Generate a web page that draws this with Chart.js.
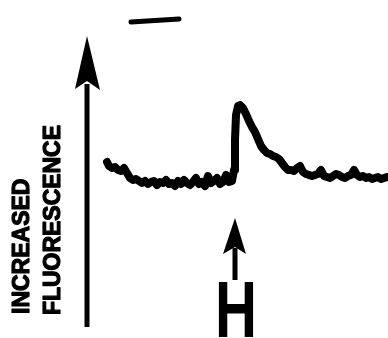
<!DOCTYPE html>
<html>
<head>
<meta charset="utf-8">
<script src="https://cdn.jsdelivr.net/npm/chart.js@4.4.1/dist/chart.umd.min.js"></script>
<style>
  html, body { margin: 0; padding: 0; background: #fff; }
  #wrap { width: 388px; height: 338px; }
</style>
</head>
<body>
<div id="wrap"><canvas id="trace" width="388" height="338"></canvas></div>
<script>
// Tempo (s) e fluorescência (u.a.)
const tempo = [
  0, 2, 5, 8, 11, 14, 17, 20, 23, 26, 29, 32, 35, 38, 41, 44, 47, 50, 53, 56,
  59, 62, 65, 68, 71, 74, 77, 80, 83, 86, 89, 92, 95, 98, 101, 104, 107, 110, 113, 116,
  119, 122, 125, 127, 128, 129, 131, 133, 136, 139, 142, 145, 148, 151, 154, 157, 160, 163, 166, 169,
  172, 175, 178, 181, 184, 187, 190, 193, 196, 199, 202, 205, 208, 211, 214, 217, 220, 223, 226, 229,
  232, 235, 238, 241, 244, 247, 250, 253, 256, 259, 262, 265, 268, 271, 274, 277, 280
];
const fluorescencia = [
  20, 16, 14, 15, 12, 11, 14, 9, 4, 2, 3, 1, -1, 1, -2, 0, 1, -3, 0, -1,
  2, -2, -1, -4, 1, -2, 2, -1, -3, 0, 4, -2, 0, -4, 6, -1, 1, 4, -2, 0,
  7, 0, 1, 12, 42, 67, 76, 77, 74, 68, 61, 55, 50, 43, 36, 32, 29, 28, 26, 25,
  23, 19, 15, 12, 12, 11, 14, 16, 10, 8, 7, 6, 7, 8, 12, 6, 5, 4, 6, 8,
  7, 5, 4, 6, 7, 12, 7, 5, 6, 4, 5, 3, 4, 5, 3, 4, 5
];
const rotulos = ["INCREASED", "FLUORESCENCE"];
const estimulo = "H";
const tempoEstimulo = 128;
const barraEscala = [24, 72]; // início e fim da barra de tempo (s)

const pontos = tempo.map((t, i) => ({ x: t, y: fluorescencia[i] }));

// Desenha setas, textos, barra de escala e o "H"
const anotacoes = {
  id: 'anotacoes',
  afterDatasetsDraw(chart) {
    const ctx = chart.ctx;
    const sx = chart.scales.x;
    ctx.save();
    ctx.fillStyle = '#000';
    ctx.strokeStyle = '#000';

    // seta grande vertical
    ctx.lineWidth = 5;
    ctx.beginPath();
    ctx.moveTo(87, 327);
    ctx.lineTo(87, 84);
    ctx.stroke();
    ctx.beginPath();
    ctx.moveTo(87, 36);
    ctx.lineTo(100, 90);
    ctx.lineTo(87, 81);
    ctx.lineTo(75, 89);
    ctx.closePath();
    ctx.fill();

    // rótulos rotacionados (com leve contorno para parecer tinta impressa)
    ctx.font = 'bold 23px "Liberation Sans", Arial, sans-serif';
    ctx.textBaseline = 'alphabetic';
    ctx.textAlign = 'left';
    ctx.lineWidth = 1.2;
    ctx.lineJoin = 'round';
    [[29, 314, 136], [60, 315, 190]].forEach(([x, y, w], i) => {
      ctx.save();
      ctx.translate(x, y);
      ctx.rotate(-Math.PI / 2);
      ctx.fillText(rotulos[i], 0, 0, w);
      ctx.strokeText(rotulos[i], 0, 0, w);
      ctx.restore();
    });

    // barra de escala
    ctx.lineWidth = 5;
    ctx.lineCap = 'round';
    ctx.beginPath();
    ctx.moveTo(sx.getPixelForValue(barraEscala[0]), 22);
    ctx.lineTo(sx.getPixelForValue(barraEscala[1]), 19);
    ctx.stroke();

    // seta do estímulo
    const xe = sx.getPixelForValue(tempoEstimulo);
    ctx.lineCap = 'butt';
    ctx.lineWidth = 5;
    ctx.beginPath();
    ctx.moveTo(xe, 280);
    ctx.lineTo(xe, 248);
    ctx.stroke();
    ctx.beginPath();
    ctx.moveTo(xe, 218);
    ctx.lineTo(xe + 11, 254);
    ctx.lineTo(xe, 247);
    ctx.lineTo(xe - 12, 254);
    ctx.closePath();
    ctx.fill();

    // H
    ctx.font = 'bold 80px "Liberation Sans", Arial, sans-serif';
    ctx.textAlign = 'center';
    ctx.fillText(estimulo, xe + 1, 337, 42);
    ctx.restore();
  }
};

new Chart(document.getElementById('trace'), {
  type: 'line',
  data: {
    datasets: [{
      data: pontos,
      borderColor: '#000',
      borderWidth: 8,
      borderJoinStyle: 'round',
      borderCapStyle: 'round',
      pointRadius: 0,
      tension: 0,
      fill: false
    }]
  },
  options: {
    responsive: false,
    animation: false,
    layout: { padding: 0 },
    plugins: { legend: { display: false }, tooltip: { enabled: false } },
    scales: {
      x: { type: 'linear', min: -107, max: 281, display: false },
      y: { min: -156, max: 182, display: false }
    }
  },
  plugins: [anotacoes]
});
</script>
</body>
</html>
